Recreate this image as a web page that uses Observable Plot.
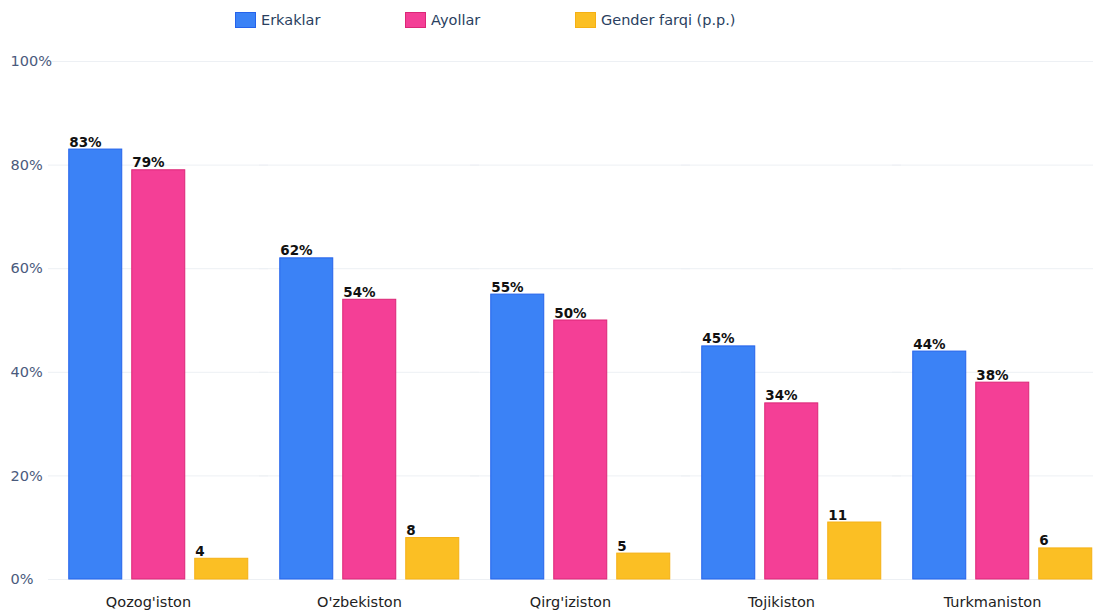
<!DOCTYPE html>
<html><head><meta charset="utf-8">
<script src="https://cdn.jsdelivr.net/npm/d3@7"></script>
<script src="https://cdn.jsdelivr.net/npm/@observablehq/plot@0.6"></script>
<style>
html,body{margin:0;padding:0;background:#fff;overflow:hidden;width:1093px;height:610px;}
#legend{position:relative;height:40px;font-family:"DejaVu Sans";font-size:14.5px;color:#2a3f5f;}
.item{position:absolute;top:12px;display:flex;align-items:center;white-space:nowrap;}
.sw{width:21px;height:16px;margin-right:5px;box-sizing:border-box;border:1px solid;}
#chart{position:relative;width:1093px;overflow:hidden;}
#chart svg{max-width:none !important;}
</style></head>
<body>
<div id="legend"></div>
<div id="chart"></div>
<script>
const countries = ["Qozog'iston", "O'zbekiston", "Qirg'iziston", "Tojikiston", "Turkmaniston"];
const series = ["Erkaklar", "Ayollar", "Gender farqi (p.p.)"];
const men = [83, 62, 55, 45, 44];
const women = [79, 54, 50, 34, 38];
const gap = [4, 8, 5, 11, 6];
const yTicks = [0, 20, 40, 60, 80, 100];
const fills = ["#3b82f6", "#f43f96", "#fbbf24"];
const strokes = ["#2563eb", "#db2777", "#f5b014"];

const values = [men, women, gap];
const rows = [];
series.forEach((s, i) => countries.forEach((c, j) => rows.push({country: c, series: s, si: i, value: values[i][j]})));

// legend
const legend = document.getElementById("legend");
const legendX = [235, 405, 575];
series.forEach((s, i) => {
  const it = document.createElement("div");
  it.className = "item";
  it.style.left = legendX[i] + "px";
  it.innerHTML = `<span class="sw" style="background:${fills[i]};border-color:${strokes[i]}"></span><span>${s}</span>`;
  legend.appendChild(it);
});

const marks = [
  Plot.ruleY(yTicks, {y: d => d, stroke: "#edf0f4", strokeWidth: 1, insetLeft: -15, insetRight: -15})
];
series.forEach((s, i) => {
  const data = rows.filter(d => d.si === i);
  marks.push(Plot.barY(data, {fx: "country", x: "series", y: "value", fill: fills[i], stroke: strokes[i], strokeWidth: 1}));
  marks.push(Plot.text(data, {
    fx: "country", x: "series", y: "value",
    text: d => i < 2 ? d.value + "%" : String(d.value),
    textAnchor: "start", lineAnchor: "bottom", dx: -26.5, dy: -3,
    fontWeight: "bold", fontSize: 13.5, fill: "#111"
  }));
});
marks.push(Plot.axisY({ticks: yTicks, tickSize: 0, tickPadding: 0, textAnchor: "start", dx: -53, tickFormat: d => d + "%", label: null, fontSize: 14.5, color: "#4a5a7c"}));
marks.push(Plot.axisFx({anchor: "bottom", tickSize: 0, tickPadding: 17, dx: -10, label: null, fontSize: 14.5, color: "#222"}));

const chart = Plot.plot({
  width: 1109,
  height: 585,
  marginTop: 21,
  marginBottom: 46,
  marginLeft: 51.25,
  marginRight: 0,
  style: {fontFamily: "DejaVu Sans", background: "transparent", overflow: "visible", maxWidth: "none"},
  fx: {domain: countries, paddingInner: 0.0993, paddingOuter: 0.04965, label: null},
  x: {domain: series, paddingInner: 0.1654, paddingOuter: 0.0827, axis: null},
  y: {domain: [0, 100], axis: null},
  marks
});
document.getElementById("chart").appendChild(chart);
</script>
</body></html>
